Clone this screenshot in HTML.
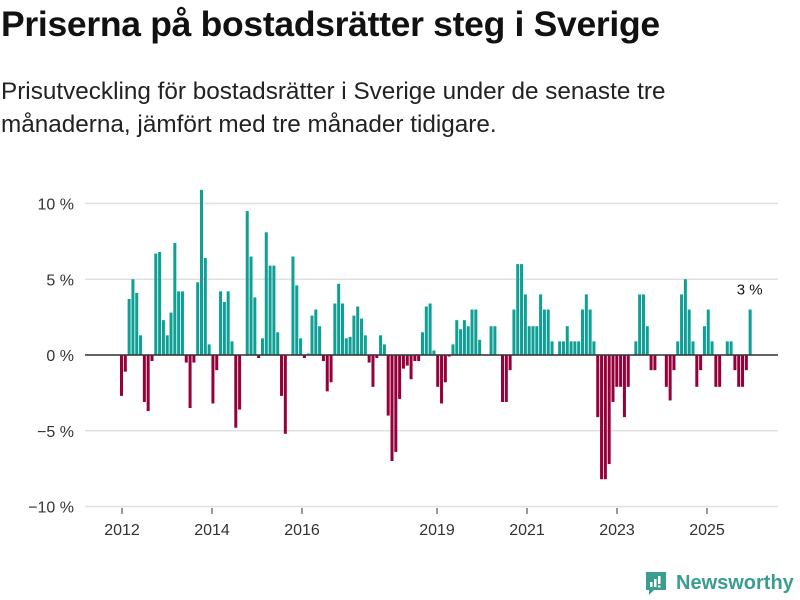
<!DOCTYPE html>
<html><head><meta charset="utf-8"><style>
body{margin:0;width:800px;height:600px;background:#fff;font-family:"Liberation Sans",sans-serif;overflow:hidden;position:relative}
h1{position:absolute;left:1px;top:4px;margin:0;font-size:35.5px;font-weight:bold;color:#111;letter-spacing:-0.3px}
p{position:absolute;left:1px;top:75px;margin:0;font-size:24.3px;line-height:33px;color:#222;width:720px}
svg{position:absolute;left:0;top:0}
</style></head><body>
<h1>Priserna på bostadsrätter steg i Sverige</h1>
<p>Prisutveckling för bostadsrätter i Sverige under de senaste tre<br>månaderna, jämfört med tre månader tidigare.</p>
<svg id="c" width="800" height="600"></svg>
<script>
const values=[-2.7,-1.1,3.7,5.0,4.1,1.3,-3.1,-3.7,-0.4,6.7,6.8,2.3,1.3,2.8,7.4,4.2,4.2,-0.5,-3.5,-0.5,4.8,10.9,6.4,0.7,-3.2,-1.0,4.2,3.5,
4.2,0.9,-4.8,-3.6,0,9.5,6.5,3.8,-0.2,1.1,8.1,5.9,5.9,1.5,-2.7,-5.2,0,6.5,4.6,1.1,-0.2,0.1,2.6,3.0,1.9,-0.4,-2.4,-1.8,
3.4,4.7,3.4,1.1,1.2,2.6,3.2,2.4,1.3,-0.5,-2.1,-0.2,1.3,0.7,-4.0,-7.0,-6.4,-2.9,-0.9,-0.7,-1.6,-0.4,-0.4,1.5,3.2,3.4,0.3,-2.1,
-3.2,-1.8,-0.1,0.7,2.3,1.7,2.3,1.9,3.0,3.0,1.0,0,0,1.9,1.9,0,-3.1,-3.1,-1.0,3.0,6.0,6.0,4.0,1.9,1.9,1.9,4.0,3.0,
3.0,0.9,0,0.9,0.9,1.9,0.9,0.9,0.9,3.0,4.0,3.0,0.9,-4.1,-8.2,-8.2,-7.2,-3.1,-2.1,-2.1,-4.1,-2.1,0,0.9,4.0,4.0,1.9,
-1.0,-1.0,0,0,-2.1,-3.0,-1.0,0.9,4.0,5.0,3.0,0.9,-2.1,-1.0,1.9,3.0,0.9,-2.1,-2.1,0,0.9,0.9,-1.0,-2.1,-2.1,-1.0,3.0];
const yTicks=[10,5,0,-5,-10];
const yearTicks=[2012,2014,2016,2019,2021,2023,2025];
const lastLabel="3 %";
const svg=document.getElementById('c');const NS='http://www.w3.org/2000/svg';
function y(v){return 355-v*15.15;}
function x(i){return 120+i*3.81;}
function xYear(yr){return 122+(yr-2012)*45;}
function mk(t,a){const e=document.createElementNS(NS,t);for(const k in a)e.setAttribute(k,a[k]);svg.appendChild(e);return e;}
yTicks.forEach(t=>{
 const l=mk('line',{x1:85,x2:778,y1:y(t),y2:y(t),stroke:'#e0e0e0','stroke-width':1.5});
 
 
 const tx=mk('text',{x:74,y:y(t)+6,'text-anchor':'end','font-size':16,fill:'#333'});
 tx.textContent=(t<0?'−'+(-t):t)+' %';
 
 
});
values.forEach((v,i)=>{
 const r=mk('rect',{x:x(i),width:3,y:Math.min(y(v),y(0)),height:Math.abs(y(v)-y(0)),fill:v>=0?'#0f9f94':'#96003a'});
 
 
});
const z=mk('line',{x1:85,x2:778,y1:y(0),y2:y(0),stroke:'#333','stroke-width':1.5});


yearTicks.forEach(yr=>{
 const tk=mk('line',{x1:xYear(yr),x2:xYear(yr),y1:508,y2:514,stroke:'#333','stroke-width':1});
 
 
 const tx=mk('text',{x:xYear(yr),y:535,'text-anchor':'middle','font-size':16,fill:'#333'});
 tx.textContent=yr;
 
 
});
const li=values.length-1;
const lb=mk('text',{x:x(li)+1,y:y(values[li])-15,'text-anchor':'middle','font-size':15,fill:'#111'});
lb.textContent=lastLabel;


</script>
<div style="position:absolute;left:644px;top:570px;display:flex;align-items:center">
<svg width="24" height="26" viewBox="0 0 24 26" style="position:static"><path d="M2 2h20v18H10l-5 5v-5H2z" fill="#3a9d90"/><rect x="6" y="12" width="2.5" height="5" fill="#fff"/><rect x="10" y="9" width="2.5" height="8" fill="#fff"/><rect x="14" y="6" width="2.5" height="8" fill="#fff"/><rect x="14" y="15.5" width="2.5" height="2" fill="#fff"/></svg>
<span style="margin-left:8px;font-size:20px;font-weight:bold;color:#3a9d90">Newsworthy</span></div>
</body></html>
